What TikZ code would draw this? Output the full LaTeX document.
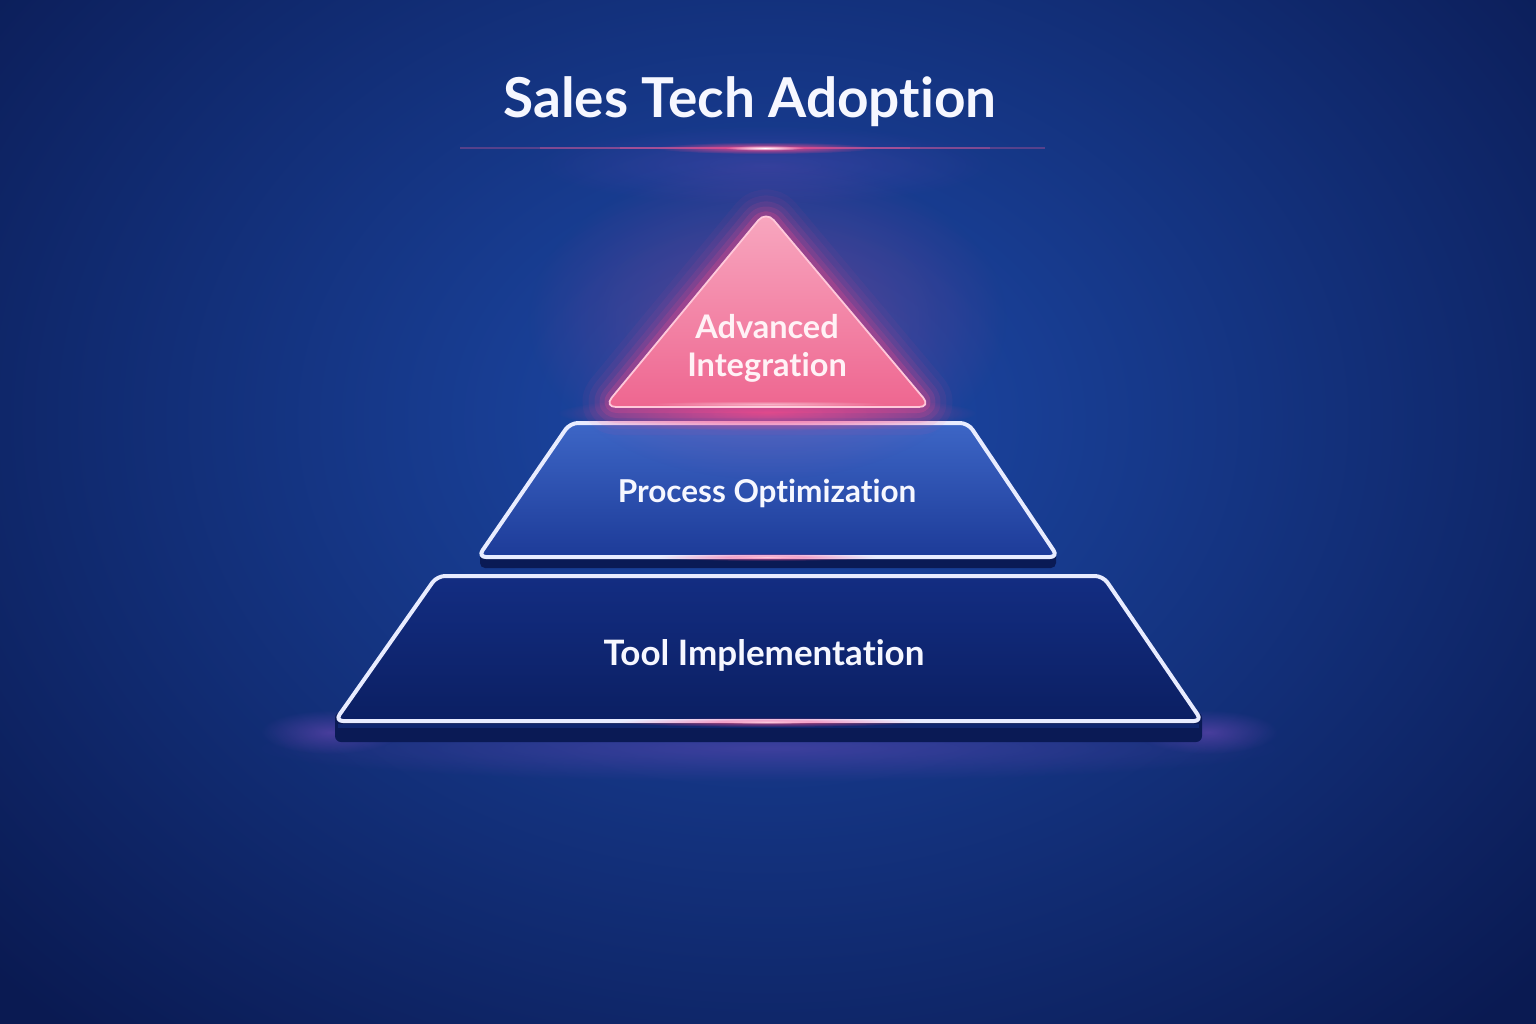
\documentclass[tikz,border=0pt]{standalone}
\usepackage{fontspec}
\setmainfont{Lato}[Ligatures=NoCommon]
\usetikzlibrary{fadings}
\tikzfading[name=glowfade, inner color=transparent!0, outer color=transparent!100]
\definecolor{bgout}{HTML}{0A1A52}
\definecolor{bgin}{HTML}{1D4AAA}
\definecolor{glowpink}{HTML}{FF4A8A}
\definecolor{linepink}{HTML}{D0589A}
\definecolor{tritop}{HTML}{F8A8C0}
\definecolor{tribot}{HTML}{EE6690}
\definecolor{triedge}{HTML}{FFC8DA}
\definecolor{midtop}{HTML}{3D66C6}
\definecolor{midbot}{HTML}{1D3B98}
\definecolor{bottop}{HTML}{132D82}
\definecolor{botbot}{HTML}{0B1F62}
\definecolor{slabcol}{HTML}{0A1A55}
\definecolor{edgecol}{HTML}{E8ECFF}
\definecolor{txtcol}{HTML}{F6F7FF}
\definecolor{tritxt}{HTML}{FFF2F6}
\definecolor{haze}{HTML}{8A50C8}
\tikzset{
  titletext/.style={font=\fontsize{55}{60}\selectfont\bfseries, text=txtcol, inner sep=0},
  label/.style={font=\fontsize{#1}{38}\selectfont\bfseries, text=txtcol, inner sep=0, align=center},
  label/.default=31.5,
  edge/.style={draw=edgecol, line width=4, rounded corners=8, line join=round},
}
\begin{document}
\begin{tikzpicture}[x=1pt,y=-1pt]
\useasboundingbox (0,0) rectangle (1536,1024);
% background
\begin{scope}
\clip (0,0) rectangle (1536,1024);
\fill[bgout] (0,0) rectangle (1536,1024);
\shade[inner color=bgin, outer color=bgout] (768,420) ellipse (1050 and 820);
\end{scope}

% title
\node[titletext] (title) at (750,102) {Sales Tech Adoption};
\fill[haze, opacity=0.25, path fading=glowfade] (765,165) ellipse (230 and 40);
\fill[linepink, opacity=0.35] (460,147) rectangle (1045,149.5);
\fill[linepink, opacity=0.35] (540,147) rectangle (990,149.5);
\fill[linepink, opacity=0.4] (620,147) rectangle (910,149.5);
\fill[glowpink, opacity=0.9, path fading=glowfade] (765,148) ellipse (110 and 6);
\fill[white, path fading=glowfade] (765,148) ellipse (40 and 2.5);

% coordinates
\coordinate (apex) at (766,211);
\coordinate (tbl) at (604,407);
\coordinate (tbr) at (931,407);
\coordinate (mtl) at (570,423);
\coordinate (mtr) at (968,423);
\coordinate (mbr) at (1058,557);
\coordinate (mbl) at (478,557);
\coordinate (btl) at (437,576);
\coordinate (btr) at (1103,576);
\coordinate (bbr) at (1202,721);
\coordinate (bbl) at (335,721);

% haze under pyramid
\fill[haze, opacity=0.35, path fading=glowfade] (768,748) ellipse (520 and 34);
\fill[haze, opacity=0.45, path fading=glowfade] (330,732) ellipse (70 and 22);
\fill[haze, opacity=0.45, path fading=glowfade] (1208,732) ellipse (70 and 22);

% bottom tier
\fill[slabcol, rounded corners=6] (335,712) -- (1202,712) -- (1202,742) -- (335,742) -- cycle;
\fill[bottop!80!bgin, opacity=0.5] (338,724) rectangle (1199,728);
\shade[top color=bottop, bottom color=botbot, rounded corners=8] (btl) -- (btr) -- (bbr) -- (bbl) -- cycle;
\draw[edge] (btl) -- (btr) -- (bbr) -- (bbl) -- cycle;
\fill[glowpink, opacity=0.7, path fading=glowfade] (767,722) ellipse (150 and 5);
\fill[white, opacity=0.6, path fading=glowfade] (767,722) ellipse (50 and 2);
\node[label=35] (tool) at (764,655) {Tool Implementation};

% middle tier
\fill[slabcol, rounded corners=5] (480,550) -- (1056,550) -- (1056,568) -- (480,568) -- cycle;
\shade[top color=midtop, bottom color=midbot, rounded corners=8] (mtl) -- (mtr) -- (mbr) -- (mbl) -- cycle;
\draw[edge] (mtl) -- (mtr) -- (mbr) -- (mbl) -- cycle;
\fill[glowpink, opacity=0.7, path fading=glowfade] (767,557) ellipse (110 and 4);
\fill[white, opacity=0.6, path fading=glowfade] (767,557) ellipse (40 and 1.6);
\node[label] (proc) at (767,493) {Process Optimization};

% top triangle glow
\fill[glowpink, opacity=0.75, path fading=glowfade] (767,413) ellipse (210 and 18);
\fill[glowpink, opacity=0.3, path fading=glowfade] (767,320) ellipse (240 and 160);
\foreach \w/\o in {56/0.05,44/0.07,32/0.1,22/0.14,12/0.22}
  \draw[glowpink, line width=\w, opacity=\o, rounded corners=14, line join=round] (apex) -- (tbr) -- (tbl) -- cycle;
\shade[top color=tritop, bottom color=tribot, rounded corners=12] (apex) -- (tbr) -- (tbl) -- cycle;
\draw[triedge, line width=1.8, rounded corners=12, line join=round] (apex) -- (tbr) -- (tbl) -- cycle;
\fill[white, opacity=0.5, path fading=glowfade] (767,404) ellipse (120 and 3);
\node[label=32.5, text=tritxt] (adv) at (767,348) {Advanced\\Integration};
\end{tikzpicture}
\end{document}
